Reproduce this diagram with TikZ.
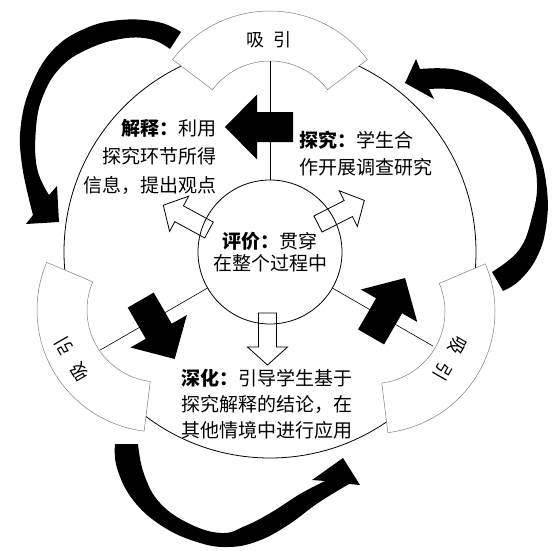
\documentclass[tikz,border=0pt]{standalone}
\usepackage{fontspec}
\newfontfamily\cjk{Noto Sans CJK SC}
\begin{document}
\begin{tikzpicture}[x=1pt,y=1pt,
  tabshape/.style={fill=white,draw=black!50,line width=0.5pt},
  tabtext/.style={font=\cjk\fontsize{18}{18}\selectfont,inner sep=0pt},
  solidarrow/.style={fill=black},
  hollowarrow/.style={fill=white,draw=black,line width=0.8pt,line join=miter},
  bentarrow/.style={fill=black},
  spoke/.style={line width=0.6pt},
  bodytext/.style={inner sep=0pt}]
\path[use as bounding box] (-270,-298) rectangle (283,252);
% outer ring
\node[circle,draw,line width=0.8pt,minimum size=412pt,inner sep=0pt] (rim) at (0,0) {};
% tabs
\begin{scope}[shift={(0,119)}]
\draw[tabshape] (37:122) arc[start angle=37,end angle=143,radius=122] -- (143:72) arc[start angle=143,end angle=37,radius=72] -- cycle;
\end{scope}
\begin{scope}[shift={(103,-59.5)}]
\draw[tabshape] (-83:122) arc[start angle=-83,end angle=23,radius=122] -- (23:72) arc[start angle=23,end angle=-83,radius=72] -- cycle;
\end{scope}
\begin{scope}[shift={(-111,-58)}]
\draw[tabshape] (157:122) arc[start angle=157,end angle=263,radius=122] -- (263:72) arc[start angle=263,end angle=157,radius=72] -- cycle;
\end{scope}
\node[tabtext] (tabtop) at (-1,212) {吸 \hspace{4pt}引};
\node[tabtext,rotate=-120] (tabright) at (180,-107) {吸 \hspace{8pt}引};
\node[tabtext,rotate=120] (tableft) at (-198,-107) {吸 \hspace{8pt}引};
% curved arrows (image coordinates)
\begin{scope}[shift={(-270,252)},yscale=-1]
\fill[bentarrow] plot[smooth,tension=0.7] coordinates {(181,32) (158,22) (120,20) (84,29) (53,50) (32,84) (21,124) (22,165) (33,215)}
  -- (26,224) -- (59,222) -- (57,186)
  -- plot[smooth,tension=0.7] coordinates {(49,195) (37,168) (36,128) (43,96) (60,68) (86,50) (120,39) (150,39) (170,49)} -- cycle;
\fill[bentarrow] plot[smooth,tension=0.7] coordinates {(420,69) (457,70) (490,86) (520,116) (538,150) (547,190) (546,227) (537,257) (520,280) (503,291)}
  -- plot[smooth,tension=0.7] coordinates {(492,272) (519,250) (532,217) (537,183) (530,150) (513,121) (487,101) (457,90) (429,89)}
  -- (434,99) -- (405,83) -- (416,59) -- cycle;
\fill[bentarrow] plot[smooth,tension=0.7] coordinates {(115,444) (117,468) (133,500) (162,526) (197,542) (228,547) (258,541) (288,525) (318,503) (349,484)}
  -- (360,485) -- (343,458) -- (312,480)
  -- plot[smooth,tension=0.7] coordinates {(325,481) (300,494) (272,512) (245,526) (222,533) (190,524) (160,503) (144,474) (138,444)} -- cycle;
\end{scope}
% hollow arrows from the core
\draw[hollowarrow,shift={(-2.5,-61)},rotate=-90] (0,-9) -- (34,-9) -- (34,-20) -- (52,0) -- (34,20) -- (34,9) -- (0,9) -- cycle;
\draw[hollowarrow,shift={(48,28)},rotate=27] (0,-9) -- (34,-9) -- (34,-20) -- (52,0) -- (34,20) -- (34,9) -- (0,9) -- cycle;
\draw[hollowarrow,shift={(-61,22)},rotate=151.5] (0,-9) -- (34,-9) -- (34,-20) -- (52,0) -- (34,20) -- (34,9) -- (0,9) -- cycle;
% core circle
\node[circle,draw,line width=0.8pt,minimum size=144pt,inner sep=0pt,align=center,font=\cjk\fontsize{19}{22.5}\selectfont] (core) at (0,0) {{\bfseries 评价：}贯穿\\在整个过程中};
% spokes
\draw[spoke] (core.90) -- (90:191);
\draw[spoke] (core.210) -- (210:196);
\draw[spoke] (core.330) -- (330:188);
% solid arrows
\fill[solidarrow,shift={(90:125)},rotate=180] (-23,-15) -- (13,-15) -- (13,-32.5) -- (45,0) -- (13,32.5) -- (13,15) -- (-23,15) -- cycle;
\fill[solidarrow,shift={(210:136)},rotate=300] (-23,-15) -- (13,-15) -- (13,-32.5) -- (45,0) -- (13,32.5) -- (13,15) -- (-23,15) -- cycle;
\fill[solidarrow,shift={(330:130)},rotate=60] (-23,-15) -- (13,-15) -- (13,-32.5) -- (45,0) -- (13,32.5) -- (13,15) -- (-23,15) -- cycle;
% texts
\node[bodytext,align=right,anchor=north east,font=\cjk\fontsize{19}{28.5}\selectfont] (jieshi) at (-53,133) {{\bfseries 解释：}利用\\探究环节所得\\信息，提出观点};
\node[bodytext,align=left,anchor=north west,font=\cjk\fontsize{19}{27}\selectfont] (tanjiu) at (29,121) {{\bfseries 探究：}学生合\\作开展调查研究};
\node[bodytext,align=left,anchor=north west,font=\cjk\fontsize{19}{26}\selectfont] (shenhua) at (-89,-117) {{\bfseries 深化：}引导学生基于\\探究解释的结论，在\\其他情境中进行应用};
\end{tikzpicture}
\end{document}
